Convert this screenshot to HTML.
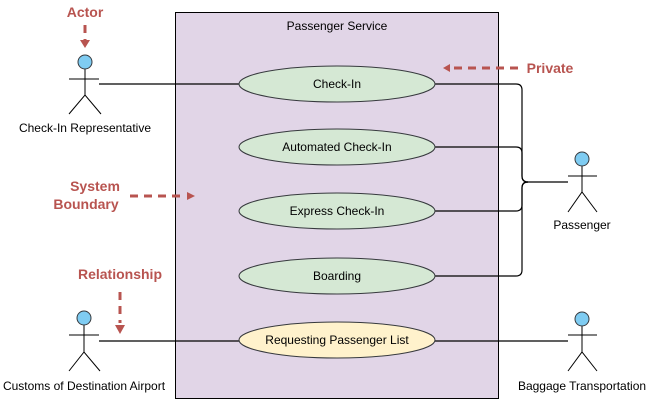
<!DOCTYPE html>
<html><head><style>body{margin:0;background:#fff}svg{display:block}</style></head><body>
<svg width="657" height="402" xmlns="http://www.w3.org/2000/svg" font-family="Liberation Sans, Arial, sans-serif">
<rect x="175.5" y="12.5" width="323" height="386" fill="#e1d5e7" stroke="#000"/>
<text x="337" y="30" font-size="12" text-anchor="middle">Passenger Service</text>
<g stroke="#000" fill="none" stroke-width="1.2">
<path d="M99 84H239"/>
<path d="M99 341H239"/>
<path d="M435 341H568"/>
<path d="M435 84H516Q522 84 522 90V176Q522 182 528 182H568"/>
<path d="M435 147H516Q522 147 522 153V176Q522 182 528 182"/>
<path d="M435 211H516Q522 211 522 205V188Q522 182 528 182"/>
<path d="M435 276H516Q522 276 522 270V188Q522 182 528 182"/>
</g>
<g stroke="#36393d" stroke-width="1">
<ellipse cx="337" cy="84" rx="98" ry="18" fill="#d5e8d4"/>
<ellipse cx="337" cy="147" rx="98" ry="18" fill="#d5e8d4"/>
<ellipse cx="337" cy="211" rx="98" ry="18" fill="#d5e8d4"/>
<ellipse cx="337" cy="276" rx="98" ry="18" fill="#d5e8d4"/>
<ellipse cx="337" cy="340" rx="98" ry="18" fill="#fff2cc"/>
</g>
<g font-size="12" text-anchor="middle">
<text x="337" y="88">Check-In</text>
<text x="337" y="151">Automated Check-In</text>
<text x="337" y="215">Express Check-In</text>
<text x="337" y="280">Boarding</text>
<text x="337" y="344">Requesting Passenger List</text>
<text x="85" y="132">Check-In Representative</text>
<text x="84" y="390">Customs of Destination Airport</text>
<text x="582" y="229">Passenger</text>
<text x="582" y="390">Baggage Transportation</text>
</g>
<g stroke="#000" fill="none">
<path d="M85 69V95M69 79H99M69 114L85 95L101 114"/>
<path d="M84 325V352M69 335H99M69 371L84 352L100 371"/>
<path d="M582 166V192M568 176H597M568 212L582 192L597 212"/>
<path d="M582 326V352M568 335H597M568 371L582 352L597 371"/>
</g>
<g fill="#7fccf2" stroke="#36393d">
<circle cx="85" cy="62" r="7"/><circle cx="84" cy="318" r="7"/>
<circle cx="582" cy="159" r="7"/><circle cx="582" cy="319" r="7"/>
</g>
<g fill="#b85450" font-weight="bold" font-size="14" text-anchor="middle">
<text x="85" y="17">Actor</text>
<text x="550" y="73">Private</text>
<text x="95" y="191">System</text>
<text x="86" y="209">Boundary</text>
<text x="120" y="279">Relationship</text>
</g>
<g stroke="#b85450" stroke-width="3" stroke-dasharray="8,6" fill="none">
<path d="M85 25V40"/>
<path d="M518 68H447"/>
<path d="M130 196H183"/>
<path d="M120 292V323"/>
</g>
<g fill="#b85450">
<path d="M80 40H90L85 48Z"/>
<path d="M443 68L450 64V72Z"/>
<path d="M195 196L187 192V200Z"/>
<path d="M115 325H125L120 334Z"/>
</g>
</svg>
</body></html>
